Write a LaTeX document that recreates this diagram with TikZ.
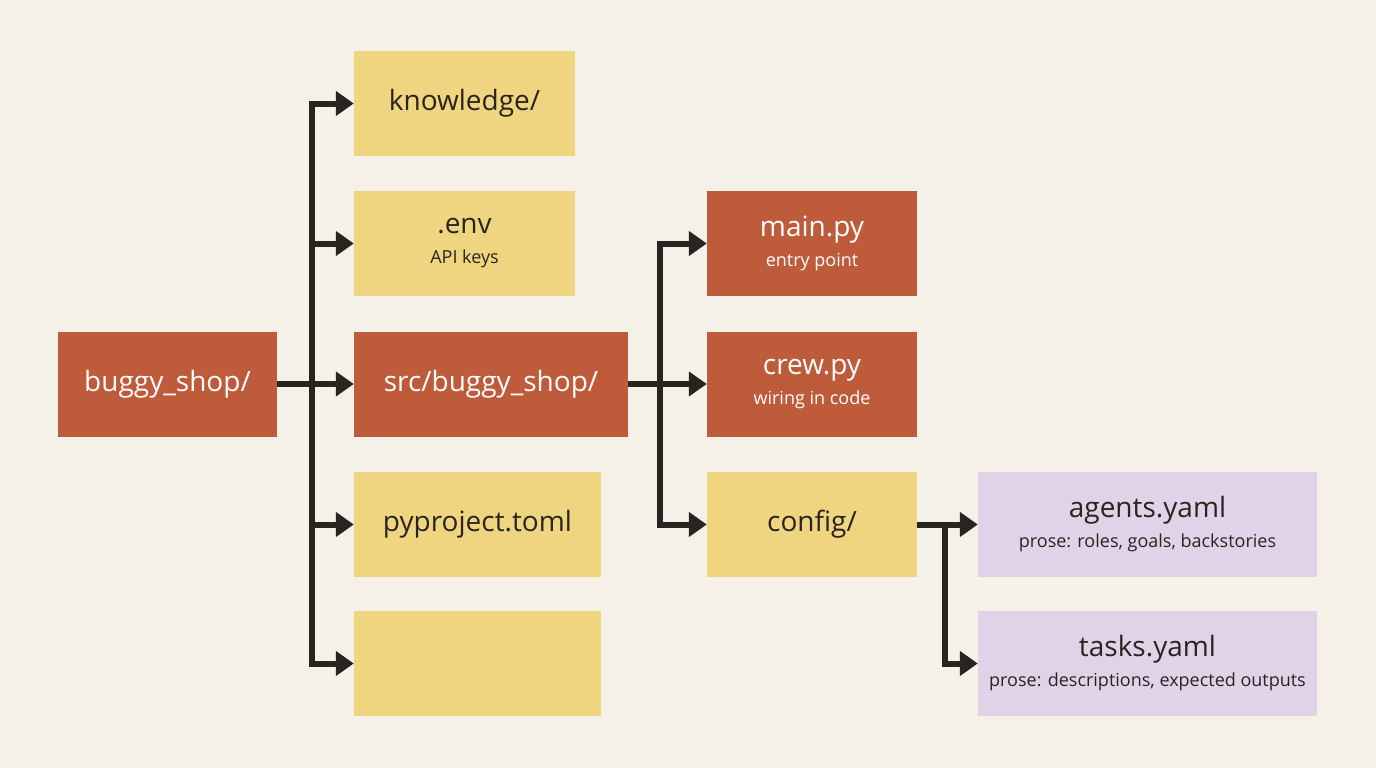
\documentclass[tikz,border=0pt]{standalone}
\usepackage{fontspec}
\setmainfont{Open Sans}
\usetikzlibrary{arrows.meta}
\definecolor{bg}{HTML}{F5F1E8}
\definecolor{rust}{HTML}{BD5B3A}
\definecolor{sand}{HTML}{F0D580}
\definecolor{lav}{HTML}{E0D3E8}
\definecolor{ink}{HTML}{2A2420}
\newcommand{\subt}{\fontsize{18}{21}\selectfont}
\begin{document}
\begin{tikzpicture}[x=1pt,y=-1pt,
 box/.style={minimum height=105pt,inner sep=0pt,align=center,font=\fontsize{28}{32}\selectfont},
 rb/.style={box,fill=rust,text=white},
 yb/.style={box,fill=sand,text=ink},
 pb/.style={box,fill=lav,text=ink},
 con/.style={draw=ink,line width=6pt,-{Triangle[length=18pt,width=24pt]}}]
\fill[bg] (0,0) rectangle (1376,768);
\useasboundingbox (0,0) rectangle (1376,768);
\node[rb,minimum width=219pt] (bs) at (167.5,384) {buggy\_shop/};
\node[yb,minimum width=221pt] (kn) at (464.5,103.5) {knowledge/};
\node[yb,minimum width=221pt] (env) at (464.5,243.5) {.env\\[-2pt]{\subt API keys}};
\node[rb,minimum width=274pt] (src) at (491,384) {src/buggy\_shop/};
\node[yb,minimum width=247pt] (py) at (477.5,524.5) {pyproject.toml};
\node[yb,minimum width=247pt] (emp) at (477.5,663.5) {};
\node[rb,minimum width=210pt] (main) at (812,243.5) {main.py\\[-2pt]{\subt entry point}};
\node[rb,minimum width=210pt] (crew) at (812,384) {crew.py\\[-2pt]{\subt wiring in code}};
\node[yb,minimum width=210pt] (cfg) at (812,524.5) {config/};
\node[pb,minimum width=339pt] (ag) at (1147.5,524.5) {agents.yaml\\[-2pt]{\subt prose: roles, goals, backstories}};
\node[pb,minimum width=339pt] (tk) at (1147.5,663.5) {tasks.yaml\\[-2pt]{\subt prose: descriptions, expected outputs}};
\coordinate (t1) at (312,384);
\coordinate (t2) at (660,384);
\coordinate (t3) at (945,524.5);
\draw[draw=ink,line width=6pt] (bs.east) -- (t1);
\foreach \n in {kn,env,src,py,emp} \draw[con] (t1) |- (\n.west);
\draw[draw=ink,line width=6pt] (src.east) -- (t2);
\foreach \n in {main,crew,cfg} \draw[con] (t2) |- (\n.west);
\draw[draw=ink,line width=6pt] (cfg.east) -- (t3);
\foreach \n in {ag,tk} \draw[con] (t3) |- (\n.west);
\end{tikzpicture}
\end{document}
